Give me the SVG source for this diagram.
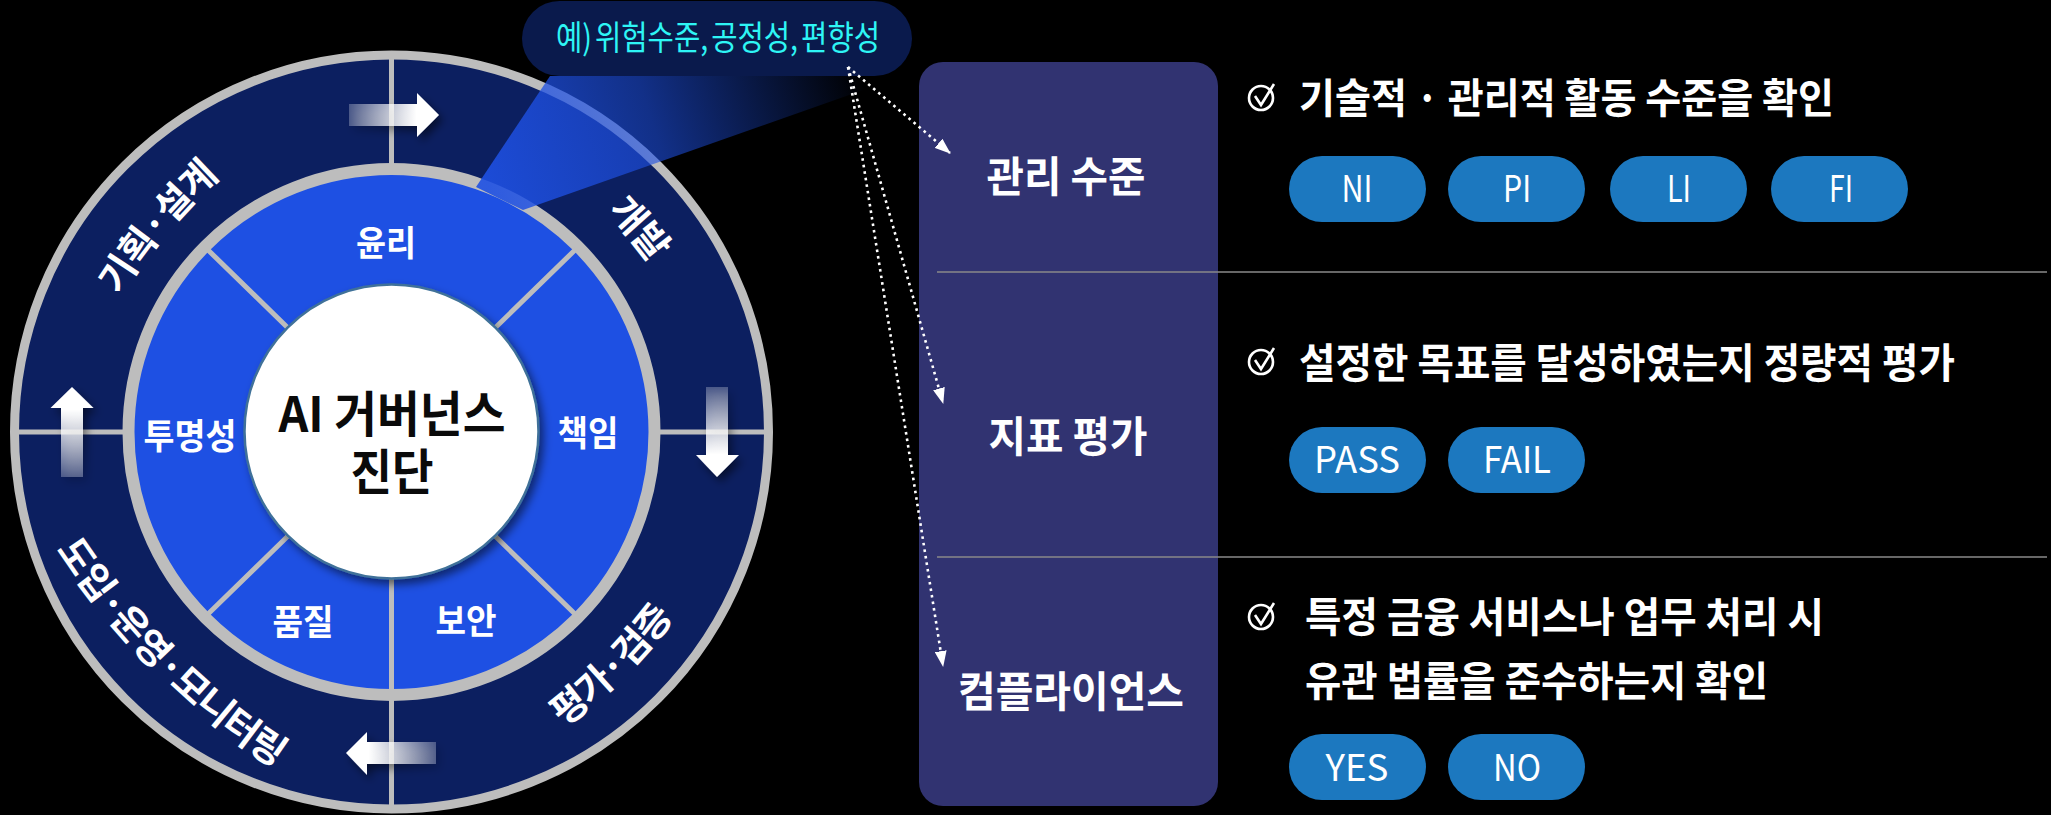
<svg xmlns="http://www.w3.org/2000/svg" width="2051" height="815" viewBox="0 0 2051 815">
<style>
text{font-family:"Noto Sans CJK KR","Noto Sans",sans-serif;fill:#fff;font-weight:700;text-anchor:middle}
.lbl{font-size:35px}
.ring{font-size:38px;font-weight:700;letter-spacing:-1.5px}
.panel{font-size:42px}
.desc{font-size:41px;text-anchor:start}
.pilltxt{font-size:37px;font-weight:400}
.pill{fill:#1c78bf}
.div{stroke:#bdbdbd;stroke-width:5;fill:none}
.hl{stroke:#8a8a8a;stroke-opacity:.75;stroke-width:2;fill:none}
.dot{stroke:#fff;stroke-width:2.6;stroke-dasharray:2.6 4;fill:none;marker-end:url(#tip)}
.chk{fill:none;stroke:#fff;stroke-width:2.6}
</style>
<defs>
<marker id="tip" viewBox="0 0 16 12" refX="15" refY="6" markerWidth="16" markerHeight="12" markerUnits="userSpaceOnUse" orient="auto"><path d="M0 0L16 6L0 12Z" fill="#fff"/></marker>
<linearGradient id="gR" x1="0" x2="1" y1="0" y2="0"><stop offset="0" stop-color="#fff" stop-opacity=".25"/><stop offset=".75" stop-color="#fff"/></linearGradient>
<linearGradient id="gL" x1="1" x2="0" y1="0" y2="0"><stop offset="0" stop-color="#fff" stop-opacity=".25"/><stop offset=".75" stop-color="#fff"/></linearGradient>
<linearGradient id="gD" x1="0" x2="0" y1="0" y2="1"><stop offset="0" stop-color="#fff" stop-opacity=".25"/><stop offset=".75" stop-color="#fff"/></linearGradient>
<linearGradient id="gU" x1="0" x2="0" y1="1" y2="0"><stop offset="0" stop-color="#fff" stop-opacity=".25"/><stop offset=".75" stop-color="#fff"/></linearGradient>
<linearGradient id="beam" gradientUnits="userSpaceOnUse" x1="490" y1="190" x2="860" y2="70"><stop offset="0" stop-color="#1e50e3" stop-opacity=".9"/><stop offset=".45" stop-color="#1e50e3" stop-opacity=".6"/><stop offset="1" stop-color="#1e50e3" stop-opacity="0"/></linearGradient>
<filter id="sh" x="-30%" y="-30%" width="170%" height="170%"><feDropShadow dx="4" dy="5" stdDeviation="4" flood-color="#000" flood-opacity=".5"/></filter>
<path id="pTL" d="M58 439A535 535 0 0 1 349 92.500"/>
<path id="pTR" d="M486.500 117A535 535 0 0 1 722 397"/>
<path id="pBR" d="M427 801A535 535 0 0 0 747 481"/>
<path id="pBL" d="M33.400 512.500A757 757 0 0 0 310.500 789.600"/>
</defs>
<rect width="2051" height="815" fill="#000"/>
<g id="outer-ring">
<circle cx="391.500" cy="432" r="377" fill="#0c1f60" stroke="#bdbdbd" stroke-width="9"/>
<path class="div" d="M391.500 58V165M391.500 699V808M15 432H123M660 432H768"/>
</g>
<g id="stage-plan"><text class="ring"><textPath href="#pTL" startOffset="50%">기획·설계</textPath></text></g>
<g id="stage-dev"><text class="ring"><textPath href="#pTR" startOffset="50%">개발</textPath></text></g>
<g id="stage-eval"><text class="ring"><textPath href="#pBR" startOffset="50%">평가·검증</textPath></text></g>
<g id="stage-ops"><text class="ring"><textPath href="#pBL" startOffset="50%">도입·운영·모니터링</textPath></text></g>
<g id="inner-ring">
<circle cx="391.500" cy="432" r="263" fill="#1e50e3" stroke="#bdbdbd" stroke-width="12"/>
<path class="div" d="M391.500 578V693M288 328L207 249M495 328L576 249M288 536L207 615M495 536L576 615"/>
</g>
<g id="center"><circle cx="391.500" cy="431.500" r="147" fill="#fff" stroke="#3f7199" stroke-width="2.500" filter="url(#sh)"/>
<text x="392" y="432" font-size="49" style="fill:#0a0a0a" textLength="227" lengthAdjust="spacingAndGlyphs">AI 거버넌스</text>
<text x="392" y="490" font-size="49" style="fill:#0a0a0a" textLength="83" lengthAdjust="spacingAndGlyphs">진단</text></g>
<g id="p-ethics"><text class="lbl" x="386" y="256" textLength="60" lengthAdjust="spacingAndGlyphs">윤리</text></g>
<g id="p-resp"><text class="lbl" x="588" y="446" textLength="61" lengthAdjust="spacingAndGlyphs">책임</text></g>
<g id="p-trans"><text class="lbl" x="190" y="449" textLength="93" lengthAdjust="spacingAndGlyphs">투명성</text></g>
<g id="p-quality"><text class="lbl" x="303" y="635" textLength="61" lengthAdjust="spacingAndGlyphs">품질</text></g>
<g id="p-security"><text class="lbl" x="466" y="634" textLength="61" lengthAdjust="spacingAndGlyphs">보안</text></g>
<g id="arrows">
<path d="M349 104H417V93L439 115L417 137V126H349Z" fill="url(#gR)" filter="url(#sh)"/>
<path d="M706 387H728V455H739L717 477L696 455H706Z" fill="url(#gD)" filter="url(#sh)"/>
<path d="M436 742H367V732L346 753L367 775V764H436Z" fill="url(#gL)" filter="url(#sh)"/>
<path d="M61 477V408H50.500L72 387L93.500 408H83V477Z" fill="url(#gU)" filter="url(#sh)"/>
</g>
<g id="callout">
<path d="M550 76L476 187L523 210L903 76Z" fill="url(#beam)"/>
<rect x="522" y="1" width="390" height="75" rx="37.500" fill="#0a1a4c"/>
<text x="718" y="50" font-size="34" style="fill:#2ef5f5;font-weight:400;word-spacing:-4px" textLength="324" lengthAdjust="spacingAndGlyphs">예) 위험수준, 공정성, 편향성</text>
</g>
<g id="panel"><rect x="919" y="62" width="299" height="744" rx="24" fill="#313371"/></g>
<g id="dividers"><path class="hl" d="M937 272H2047M937 557H2047"/></g>
<g id="connectors">
<path class="dot" d="M848 67L950 153"/>
<path class="dot" d="M848 67L943 403"/>
<path class="dot" d="M848 67L943 666"/>
</g>
<g id="level"><text class="panel" x="1066" y="192" textLength="159" lengthAdjust="spacingAndGlyphs">관리 수준</text></g>
<g id="metric"><text class="panel" x="1068" y="452" textLength="159" lengthAdjust="spacingAndGlyphs">지표 평가</text></g>
<g id="compliance"><text class="panel" x="1071" y="707" textLength="226" lengthAdjust="spacingAndGlyphs">컴플라이언스</text></g>
<g id="row1">
<circle class="chk" cx="1261" cy="98" r="12"/><path class="chk" d="M1255 96L1261 105L1274 84"/>
<text class="desc" x="1299" y="113" textLength="535" lengthAdjust="spacingAndGlyphs">기술적 · 관리적 활동 수준을 확인</text>
<rect class="pill" x="1289" y="156" width="137" height="66" rx="33"/><text class="pilltxt" x="1357" y="202" textLength="31" lengthAdjust="spacingAndGlyphs">NI</text>
<rect class="pill" x="1448" y="156" width="137" height="66" rx="33"/><text class="pilltxt" x="1517" y="202" textLength="28" lengthAdjust="spacingAndGlyphs">PI</text>
<rect class="pill" x="1610" y="156" width="137" height="66" rx="33"/><text class="pilltxt" x="1679" y="202" textLength="24" lengthAdjust="spacingAndGlyphs">LI</text>
<rect class="pill" x="1771" y="156" width="137" height="66" rx="33"/><text class="pilltxt" x="1841" y="202" textLength="24" lengthAdjust="spacingAndGlyphs">FI</text>
</g>
<g id="row2">
<circle class="chk" cx="1261" cy="362" r="12"/><path class="chk" d="M1255 360L1261 369L1274 348"/>
<text class="desc" x="1299" y="378" textLength="656" lengthAdjust="spacingAndGlyphs">설정한 목표를 달성하였는지 정량적 평가</text>
<rect class="pill" x="1289" y="427" width="137" height="66" rx="33"/><text class="pilltxt" x="1357" y="473" textLength="86" lengthAdjust="spacingAndGlyphs">PASS</text>
<rect class="pill" x="1448" y="427" width="137" height="66" rx="33"/><text class="pilltxt" x="1517" y="473" textLength="68" lengthAdjust="spacingAndGlyphs">FAIL</text>
</g>
<g id="row3">
<circle class="chk" cx="1261" cy="617" r="12"/><path class="chk" d="M1255 615L1261 624L1274 603"/>
<text class="desc" x="1305" y="632" textLength="519" lengthAdjust="spacingAndGlyphs">특정 금융 서비스나 업무 처리 시</text>
<text class="desc" x="1305" y="696" textLength="463" lengthAdjust="spacingAndGlyphs">유관 법률을 준수하는지 확인</text>
<rect class="pill" x="1289" y="734" width="137" height="66" rx="33"/><text class="pilltxt" x="1357" y="781" textLength="63" lengthAdjust="spacingAndGlyphs">YES</text>
<rect class="pill" x="1448" y="734" width="137" height="66" rx="33"/><text class="pilltxt" x="1517" y="781" textLength="48" lengthAdjust="spacingAndGlyphs">NO</text>
</g>
</svg>
